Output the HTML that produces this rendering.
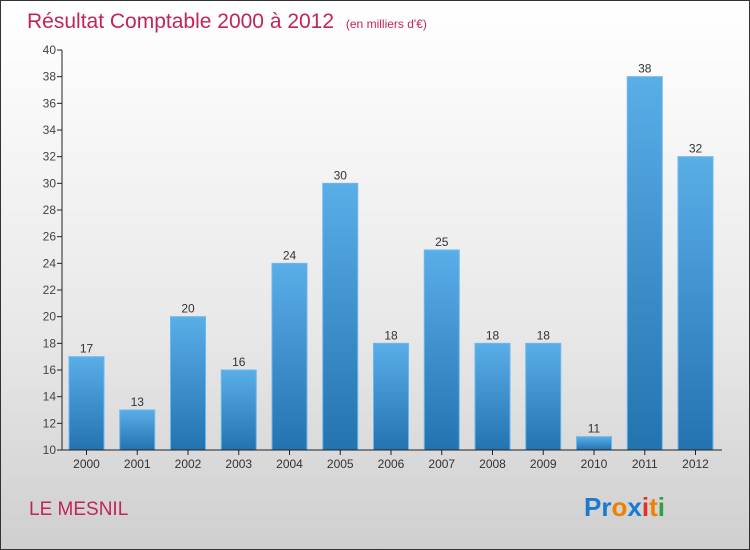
<!DOCTYPE html>
<html><head><meta charset="utf-8"><style>
body{margin:0}
#c{position:relative;width:748px;height:548px;border:1px solid #333;background:linear-gradient(#ffffff,#fafafa 15%,#e8e8e8 60%,#cfcfcf);font-family:"Liberation Sans",sans-serif;overflow:hidden}
</style></head><body>
<div id="c">
<svg width="748" height="548">
<defs><linearGradient id="g" x1="0" y1="0" x2="0" y2="1"><stop offset="0" stop-color="#5aaee8"/><stop offset="1" stop-color="#2373b0"/></linearGradient></defs>
<text x="26" y="27" font-size="21" fill="#c0245a">Résultat Comptable 2000 à 2012 <tspan font-size="12" dx="6">(en milliers d'€)</tspan></text>
<g id="plot"></g>
<text x="28" y="514" font-size="19" fill="#c0245a">LE MESNIL</text>
<text x="583" y="515" font-size="26" font-weight="bold"><tspan fill="#1a7ad0">Pr</tspan><tspan fill="#f08000">o</tspan><tspan fill="#1a7ad0">x</tspan><tspan fill="#e03020">i</tspan><tspan fill="#f08000">t</tspan><tspan fill="#30a040">i</tspan></text>
</svg>
</div>
<script>
const categories=["2000","2001","2002","2003","2004","2005","2006","2007","2008","2009","2010","2011","2012"];
const values=[17,13,20,16,24,30,18,25,18,18,11,38,32];
const yTicks=[10,12,14,16,18,20,22,24,26,28,30,32,34,36,38,40];
const ns="http://www.w3.org/2000/svg";
const g=document.getElementById("plot");
const y=v=>449-(v-10)*(400/30);
const x=i=>85.5+i*50.75;
function mk(t,a,txt){const e=document.createElementNS(ns,t);for(const k in a)e.setAttribute(k,a[k]);if(txt!==undefined)e.textContent=txt;g.appendChild(e);return e;}
yTicks.forEach(v=>{
 const l=mk("line",{x1:56,x2:61,y1:y(v),y2:y(v),stroke:"#222"});
 
 
 const t=mk("text",{x:55,y:y(v)+4,"text-anchor":"end","font-size":12,fill:"#444"},v);
 
 
});
values.forEach((v,i)=>{
 const b=mk("rect",{x:x(i)-17.5,y:y(v),width:35,height:449-y(v),fill:"url(#g)",stroke:"#6bb8ee","stroke-width":1});
 
 
 const t=mk("text",{x:x(i),y:y(v)-4,"text-anchor":"middle","font-size":12,fill:"#333"},v);
 
 
 const tk=mk("line",{x1:x(i),x2:x(i),y1:449,y2:454,stroke:"#222"});
 
 
 const c=mk("text",{x:x(i),y:467,"text-anchor":"middle","font-size":12,fill:"#333"},categories[i]);
 
 
});
const ya=mk("line",{x1:61,x2:61,y1:y(40),y2:449,stroke:"#222"});


const xa=mk("line",{x1:61,x2:721,y1:449,y2:449,stroke:"#222"});


</script>
</body></html>
